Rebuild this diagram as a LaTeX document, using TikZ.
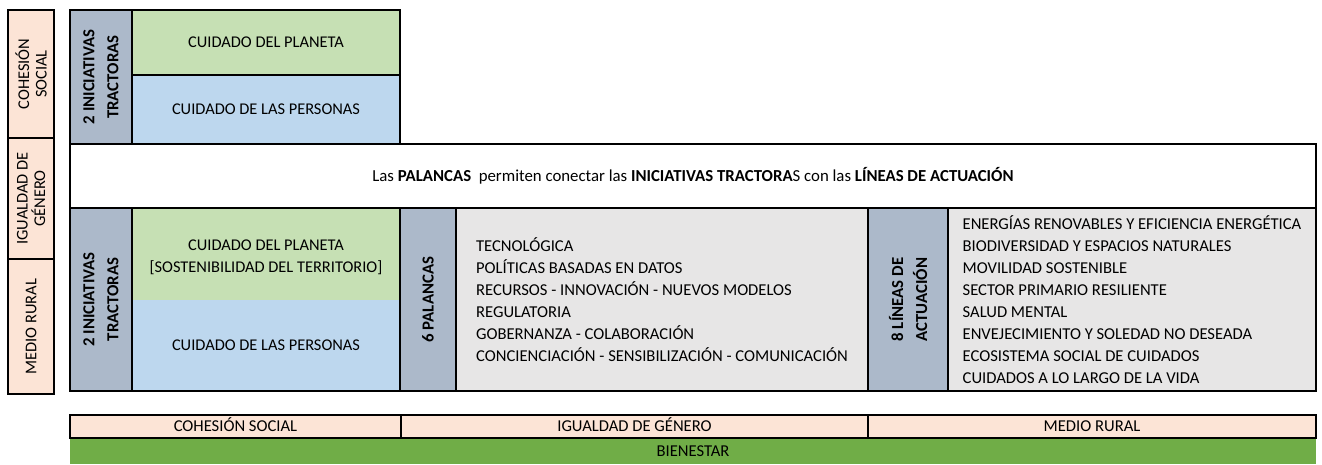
\documentclass[tikz,border=0pt]{standalone}
\usepackage{fontspec}
\setmainfont{Carlito}
\usetikzlibrary{positioning}

\definecolor{rosa}{HTML}{FCE4D6}
\definecolor{verdeclaro}{HTML}{C6E0B4}
\definecolor{azulclaro}{HTML}{BDD7EE}
\definecolor{grisazul}{HTML}{ACB9CA}
\definecolor{grisclaro}{HTML}{E7E6E6}
\definecolor{verde}{HTML}{70AD47}

\tikzset{
  caja/.style={draw, line width=1.8pt, inner sep=0pt, outer sep=0pt, align=center,
    font=\fontsize{16.4}{22}\selectfont},
  lateral/.style={caja, fill=rosa, rotate=90, font=\fontsize{16.4}{17.5}\selectfont},
  cabecera/.style={caja, fill=grisazul, rotate=90, font=\bfseries\fontsize{16.8}{24}\selectfont},
  lista/.style={caja, fill=grisclaro, align=left, font=\fontsize{16.6}{21.9}\selectfont},
  franja/.style={caja, fill=rosa, text height=13pt, text depth=3pt, font=\fontsize{16.6}{18}\selectfont}
}

\begin{document}
\begin{tikzpicture}[x=1pt,y=-1pt]
\useasboundingbox (0,0) rectangle (1322,464);

\node[lateral, minimum width=128, minimum height=46] (cs) at (31,74) {COHESIÓN\\SOCIAL};
\node[lateral, minimum width=121, minimum height=46] (ig) at (31,198.5) {IGUALDAD DE\\GÉNERO};
\node[lateral, minimum width=135, minimum height=46] (mr) at (31,326.5) {MEDIO RURAL};

\node[cabecera, minimum width=134, minimum height=62] (it1) at (101,77) {2 INICIATIVAS\\TRACTORAS};
\node[caja, fill=verdeclaro, minimum width=268, minimum height=65] (pl1) at (266,42.5) {CUIDADO DEL PLANETA};
\node[caja, fill=azulclaro, minimum width=268, minimum height=69] (pe1) at (266,109.5) {CUIDADO DE LAS PERSONAS};

\node[caja, fill=white, minimum width=1246, minimum height=64, font=\fontsize{16.8}{18}\selectfont] (pal) at (693,176)
  {Las \textbf{PALANCAS}\ \ permiten conectar las \textbf{INICIATIVAS TRACTORA}S con las \textbf{LÍNEAS DE ACTUACIÓN}};

\node[cabecera, minimum width=183, minimum height=62] (it2) at (101,299.5) {2 INICIATIVAS\\TRACTORAS};
\node[caja, draw=none, fill=verdeclaro, minimum width=268, minimum height=92] (pl2) at (266,254) {};
\node[caja, draw=none] (tpl2) at (266,257) {CUIDADO DEL PLANETA\\{[SOSTENIBILIDAD DEL TERRITORIO]}};
\node[caja, draw=none, fill=azulclaro, minimum width=268, minimum height=91] (pe2) at (266,345.5) {CUIDADO DE LAS PERSONAS};
\draw[line width=1.8pt] (pl2.north west) rectangle (pe2.south east);
\node[cabecera, minimum width=183, minimum height=56] (pa) at (428,299.5) {6 PALANCAS};
\node[lista, minimum width=412, minimum height=183] (lp) at (662,299.5)
  {TECNOLÓGICA\\POLÍTICAS BASADAS EN DATOS\\RECURSOS - INNOVACIÓN - NUEVOS MODELOS\\REGULATORIA\\
   GOBERNANZA - COLABORACIÓN\\CONCIENCIACIÓN - SENSIBILIZACIÓN - COMUNICACIÓN};
\node[cabecera, minimum width=183, minimum height=80] (la) at (908,299.5) {8 LÍNEAS DE\\ACTUACIÓN};
\node[lista, minimum width=368, minimum height=183] (ll) at (1132,299.5)
  {ENERGÍAS RENOVABLES Y EFICIENCIA ENERGÉTICA\\BIODIVERSIDAD Y ESPACIOS NATURALES\\MOVILIDAD SOSTENIBLE\\
   SECTOR PRIMARIO RESILIENTE\\SALUD MENTAL\\ENVEJECIMIENTO Y SOLEDAD NO DESEADA\\
   ECOSISTEMA SOCIAL DE CUIDADOS\\CUIDADOS A LO LARGO DE LA VIDA};

\node[franja, minimum width=331, minimum height=23] (fcs) at (235.5,426.5) {COHESIÓN SOCIAL};
\node[franja, minimum width=467, minimum height=23] (fig) at (634.5,426.5) {IGUALDAD DE GÉNERO};
\node[franja, minimum width=448, minimum height=23] (fmr) at (1092,426.5) {MEDIO RURAL};
\node[caja, draw=none, fill=verde, minimum width=1246, minimum height=25, font=\fontsize{16.6}{18}\selectfont]
  (bien) at (693,451.5) {BIENESTAR};
\end{tikzpicture}
\end{document}
